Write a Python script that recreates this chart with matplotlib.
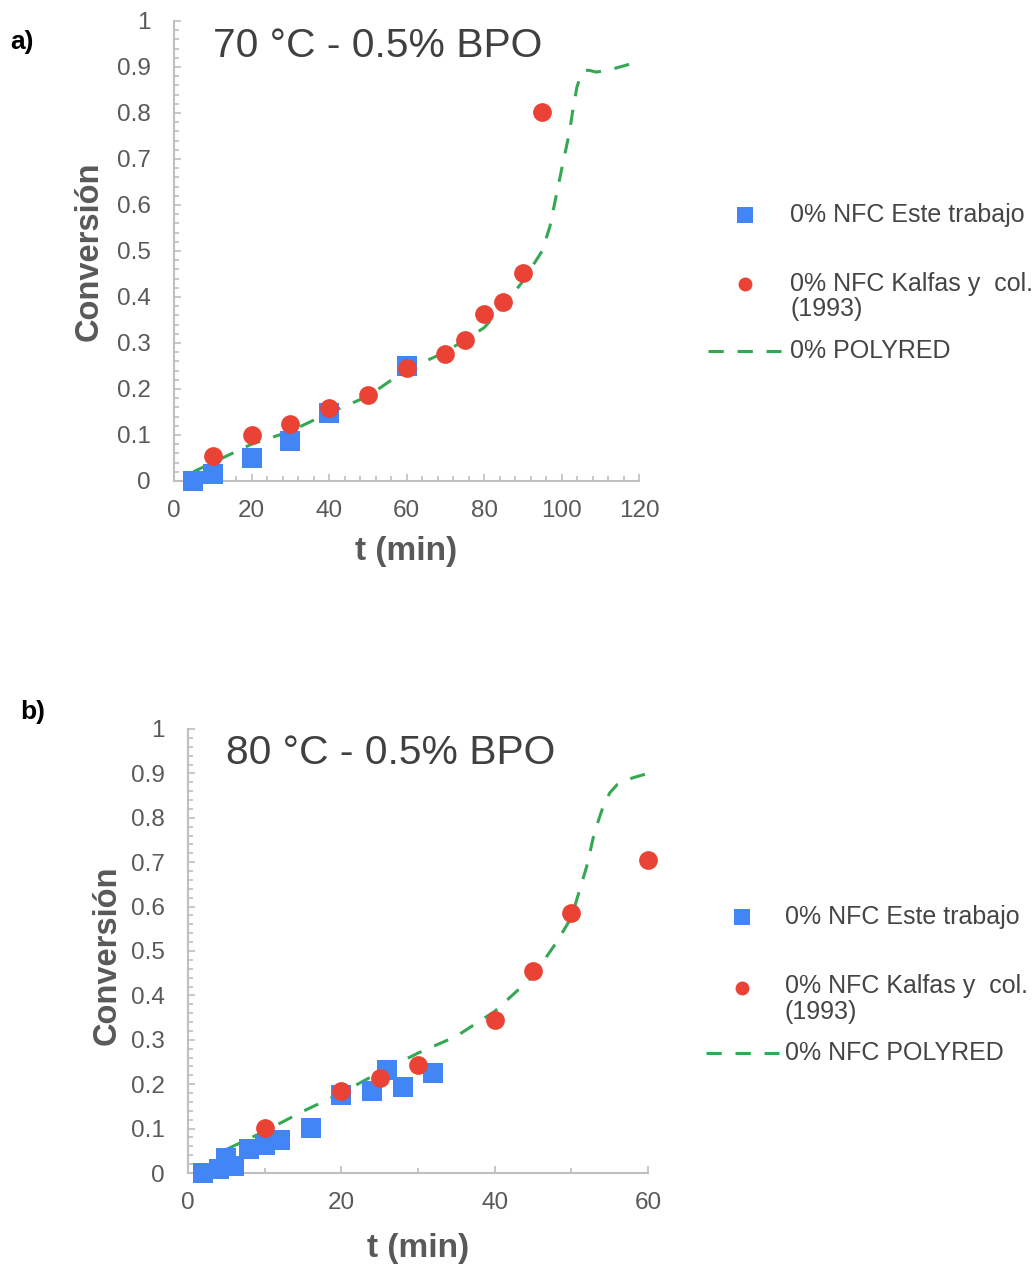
#!/usr/bin/python3
# -*- coding: utf-8 -*-

# Conversión vs tiempo, dos temperaturas (70 °C y 80 °C)
# puntos experimentales + curva POLYRED

import matplotlib.pyplot as plt
from matplotlib.lines import Line2D
from matplotlib.ticker import MultipleLocator

# ---- a) 70 °C ----
t_este_a = [5, 10, 20, 30, 40, 60]
x_este_a = [0.0, 0.015, 0.05, 0.088, 0.148, 0.25]

t_kalfas_a = [10, 20, 30, 40, 50, 60, 70, 75, 80, 85, 90, 95]
x_kalfas_a = [0.055, 0.101, 0.123, 0.159, 0.188, 0.246, 0.275, 0.306,
              0.362, 0.39, 0.453, 0.803]

t_polyred_a = [5, 10, 20, 30, 40, 50, 60, 70, 80, 85, 90, 95, 97, 100,
               102, 103, 104, 105, 106, 107, 109, 112, 118]
x_polyred_a = [0.02, 0.04, 0.08, 0.108, 0.148, 0.184, 0.242, 0.28, 0.333,
               0.38, 0.434, 0.50, 0.553, 0.676, 0.756, 0.81, 0.857, 0.882,
               0.892, 0.893, 0.889, 0.893, 0.907]

# ---- b) 80 °C ----
t_este_b = [2, 4, 5, 6, 8, 10, 12, 16, 20, 24, 26, 28, 32]
x_este_b = [0.0, 0.01, 0.033, 0.015, 0.053, 0.064, 0.075, 0.101, 0.176,
            0.184, 0.233, 0.193, 0.225]

t_kalfas_b = [10, 20, 25, 30, 40, 45, 50, 60]
x_kalfas_b = [0.101, 0.184, 0.214, 0.244, 0.344, 0.456, 0.586, 0.706]

t_polyred_b = [5, 10, 15, 20, 25, 30, 35, 40, 45, 48, 50, 52, 53, 54, 55,
               56, 58, 60]
x_polyred_b = [0.053, 0.094, 0.139, 0.18, 0.227, 0.27, 0.308, 0.364, 0.443,
               0.518, 0.575, 0.69, 0.766, 0.818, 0.856, 0.875, 0.89, 0.90]

labels_a = ['0% NFC Este trabajo', '0% NFC Kalfas y  col.\n(1993)',
            '0% POLYRED']
labels_b = ['0% NFC Este trabajo', '0% NFC Kalfas y  col.\n(1993)',
            '0% NFC POLYRED']

BLUE = '#4285F4'
RED = '#EA4335'
GREEN = '#34A853'
AXIS_GRAY = '#BFBFBF'
TEXT_GRAY = '#595959'
DASH = (0, (5, 4.5))

W, H = 1034, 1266


def px(x, y):
    # pixel -> coordenadas de figura
    return x / W, 1 - y / H


def draw_panel(ax, t_e, x_e, t_k, x_k, t_p, x_p, xmax, xmajor, xminor,
               title, title_x):

    ax.plot(t_p, x_p, color=GREEN, lw=2.2, linestyle=DASH, zorder=2)
    # los marcadores pueden salirse del área de ejes (sin recorte)
    ax.plot(t_e, x_e, linestyle='None', marker='s', markersize=14.5,
            markerfacecolor=BLUE, markeredgewidth=0, zorder=3,
            clip_on=False)
    ax.plot(t_k, x_k, linestyle='None', marker='o', markersize=13.5,
            markerfacecolor=RED, markeredgewidth=0, zorder=4,
            clip_on=False)

    ax.set_xlim(0, xmax)
    ax.set_ylim(0, 1)
    ax.xaxis.set_major_locator(MultipleLocator(xmajor))
    ax.xaxis.set_minor_locator(MultipleLocator(xminor))
    ax.yaxis.set_major_locator(MultipleLocator(0.1))
    ax.yaxis.set_minor_locator(MultipleLocator(0.02))
    ax.yaxis.set_major_formatter(lambda v, pos: '%g' % round(v, 2))

    for side in ['top', 'right']:
        ax.spines[side].set_visible(False)
    for side in ['left', 'bottom']:
        ax.spines[side].set_color(AXIS_GRAY)
        ax.spines[side].set_linewidth(1.5)

    ax.tick_params(which='both', direction='in', color=AXIS_GRAY, width=1.2)
    ax.tick_params(which='major', length=5, labelsize=17.5,
                   labelcolor=TEXT_GRAY)
    ax.tick_params(which='minor', length=3.5)
    ax.tick_params(axis='x', which='major', pad=14)
    ax.tick_params(axis='y', which='major', pad=17)

    ax.set_xlabel('t (min)', fontsize=24, fontweight='bold', color=TEXT_GRAY)
    ax.set_ylabel('Conversión', fontsize=23.5, fontweight='bold',
                  color=TEXT_GRAY)

    ax.text(title_x, 0.946, title, fontsize=29.3, color='#404040',
            va='center', ha='left')


def draw_key(fig, x_mark, x_line0, x_line1, x_text, y_rows, labels):
    # leyenda a mano: cuadrado, círculo, línea discontinua
    y0, y1, y1_text, y2 = y_rows

    fig.add_artist(Line2D(*zip(px(x_mark, y0)), marker='s', markersize=12,
                          markerfacecolor=BLUE, markeredgewidth=0,
                          linestyle='None'))
    fig.add_artist(Line2D(*zip(px(x_mark, y1)), marker='o', markersize=10,
                          markerfacecolor=RED, markeredgewidth=0,
                          linestyle='None'))
    xa, ya = px(x_line0, y2)
    xb, _ = px(x_line1, y2)
    fig.add_artist(Line2D([xa, xb], [ya, ya], color=GREEN, lw=2.2,
                          linestyle=DASH))

    for y, lab in zip([y0, y1_text, y2], labels):
        xt, yt = px(x_text, y)
        fig.text(xt, yt, lab, fontsize=18, color='#454545', va='center',
                 ha='left', linespacing=1.06)


def main():

    plt.rcParams['font.family'] = ['Liberation Sans', 'DejaVu Sans']

    fig = plt.figure(figsize=(W / 100, H / 100), dpi=100)

    ax_a = fig.add_axes([174 / W, 1 - 481 / H, 465 / W, 460 / H])
    ax_b = fig.add_axes([188 / W, 1 - 1173 / H, 460 / W, 444 / H])

    draw_panel(ax_a, t_este_a, x_este_a, t_kalfas_a, x_kalfas_a,
               t_polyred_a, x_polyred_a, 120, 20, 4,
               '70 °C - 0.5% BPO', 10)
    draw_panel(ax_b, t_este_b, x_este_b, t_kalfas_b, x_kalfas_b,
               t_polyred_b, x_polyred_b, 60, 20, 10,
               '80 °C - 0.5% BPO', 5)

    ax_a.yaxis.set_label_coords(-0.15, 0.5)
    ax_a.xaxis.set_label_coords(0.5, -0.12)
    ax_b.yaxis.set_label_coords(-0.143, 0.49)
    ax_b.xaxis.set_label_coords(0.5, -0.135)

    draw_key(fig, 745, 708, 781, 790, (215, 284, 296.5, 351), labels_a)
    draw_key(fig, 742, 706, 779, 785, (917, 988, 999, 1053), labels_b)

    fig.text(*px(10, 42), 'a)', fontsize=19, fontweight='bold',
             va='center', ha='left')
    fig.text(*px(20, 712), 'b)', fontsize=19, fontweight='bold',
             va='center', ha='left')

    fig.savefig('out.png', dpi=100)


if __name__ == '__main__':

    main()
